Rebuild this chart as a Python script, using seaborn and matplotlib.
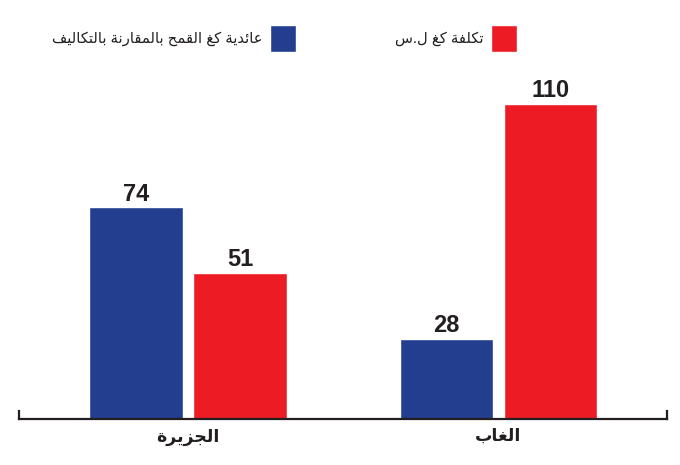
import matplotlib
matplotlib.use("Agg")
import matplotlib.pyplot as plt
import pandas as pd
import seaborn as sns

# données
regions = ["الجزيرة", "الغاب"]
series = ["عائدية كغ القمح بالمقارنة بالتكاليف", "تكلفة كغ ل.س"]
revenue = [74, 28]
cost = [51, 110]
colors = ["#233e8e", "#ed1c24"]
ink = "#231f20"

# formes de présentation arabes: (isolée, finale, initiale, médiane)
_BASE = {
    "ا": (0xFE8D, False), "ب": (0xFE8F, True), "ة": (0xFE93, False),
    "ت": (0xFE95, True), "ج": (0xFE9D, True), "ح": (0xFEA1, True),
    "د": (0xFEA9, False), "ر": (0xFEAD, False), "ز": (0xFEAF, False),
    "س": (0xFEB1, True), "ع": (0xFEC9, True), "غ": (0xFECD, True),
    "ف": (0xFED1, True), "ق": (0xFED5, True), "ك": (0xFED9, True),
    "ل": (0xFEDD, True), "م": (0xFEE1, True), "ن": (0xFEE5, True),
    "ي": (0xFEF1, True), "ئ": (0xFE89, True),
}


def shape(text):
    """Reshape + inverse l'ordre (pas de bidi dans matplotlib)"""
    out = []
    for i, ch in enumerate(text):
        if ch not in _BASE:
            out.append(ch)
            continue
        base, dual = _BASE[ch]
        prev = text[i - 1] if i > 0 else ""
        nxt = text[i + 1] if i + 1 < len(text) else ""
        jp = prev in _BASE and _BASE[prev][1]
        jn = dual and nxt in _BASE
        if jp and jn:
            out.append(chr(base + 3))
        elif jp:
            out.append(chr(base + 1))
        elif jn:
            out.append(chr(base + 2))
        else:
            out.append(chr(base))
    return "".join(reversed(out))


df = pd.DataFrame({
    "region": [shape(r) for r in regions] * 2,
    "serie": [shape(series[0])] * 2 + [shape(series[1])] * 2,
    "value": revenue + cost,
})

sns.set_theme(style="white")
plt.rcParams["font.family"] = ["Liberation Sans", "DejaVu Sans"]

fig = plt.figure(figsize=(6.8, 4.65), dpi=100)
ax = fig.add_axes([19 / 680, 46 / 465, 648 / 680, 343.8 / 465])

sns.barplot(data=df, x="region", y="value", hue="serie",
            palette=colors, width=0.67, gap=0.1, saturation=1,
            ax=ax)

ax.set_xlim(-0.544, 1.543)
ax.set_ylim(0, 120)

for c in ax.containers:
    ax.bar_label(c, padding=1, fontsize=17, fontweight="bold", color=ink)

leg = ax.get_legend()
handles = leg.legend_handles
labels = [t.get_text() for t in leg.get_texts()]
leg.remove()

# deux légendes séparées, carré à droite du texte (sens RTL)
for h, lab, xr in zip(handles, labels, [296, 517]):
    fig.legend([h], [lab], loc="center right",
               bbox_to_anchor=(xr / 680, 1 - 38.5 / 465),
               frameon=False, markerfirst=False, borderpad=0,
               borderaxespad=0, handlelength=1.75, handleheight=2.4,
               handletextpad=0.5,
               prop={"size": 10.6}, labelcolor=ink)

ax.spines["top"].set_visible(False)
for s in ["left", "right", "bottom"]:
    ax.spines[s].set_color(ink)
    ax.spines[s].set_linewidth(1.6)
ax.spines["left"].set_bounds(0, 2.8)
ax.spines["right"].set_bounds(0, 2.8)

ax.set_yticks([])
ax.set_xlabel("")
ax.set_ylabel("")
ax.tick_params(axis="x", length=0, pad=7, labelsize=12.5, colors=ink)
for t in ax.get_xticklabels():
    t.set_fontweight("bold")

fig.savefig("out.png", dpi=100)
